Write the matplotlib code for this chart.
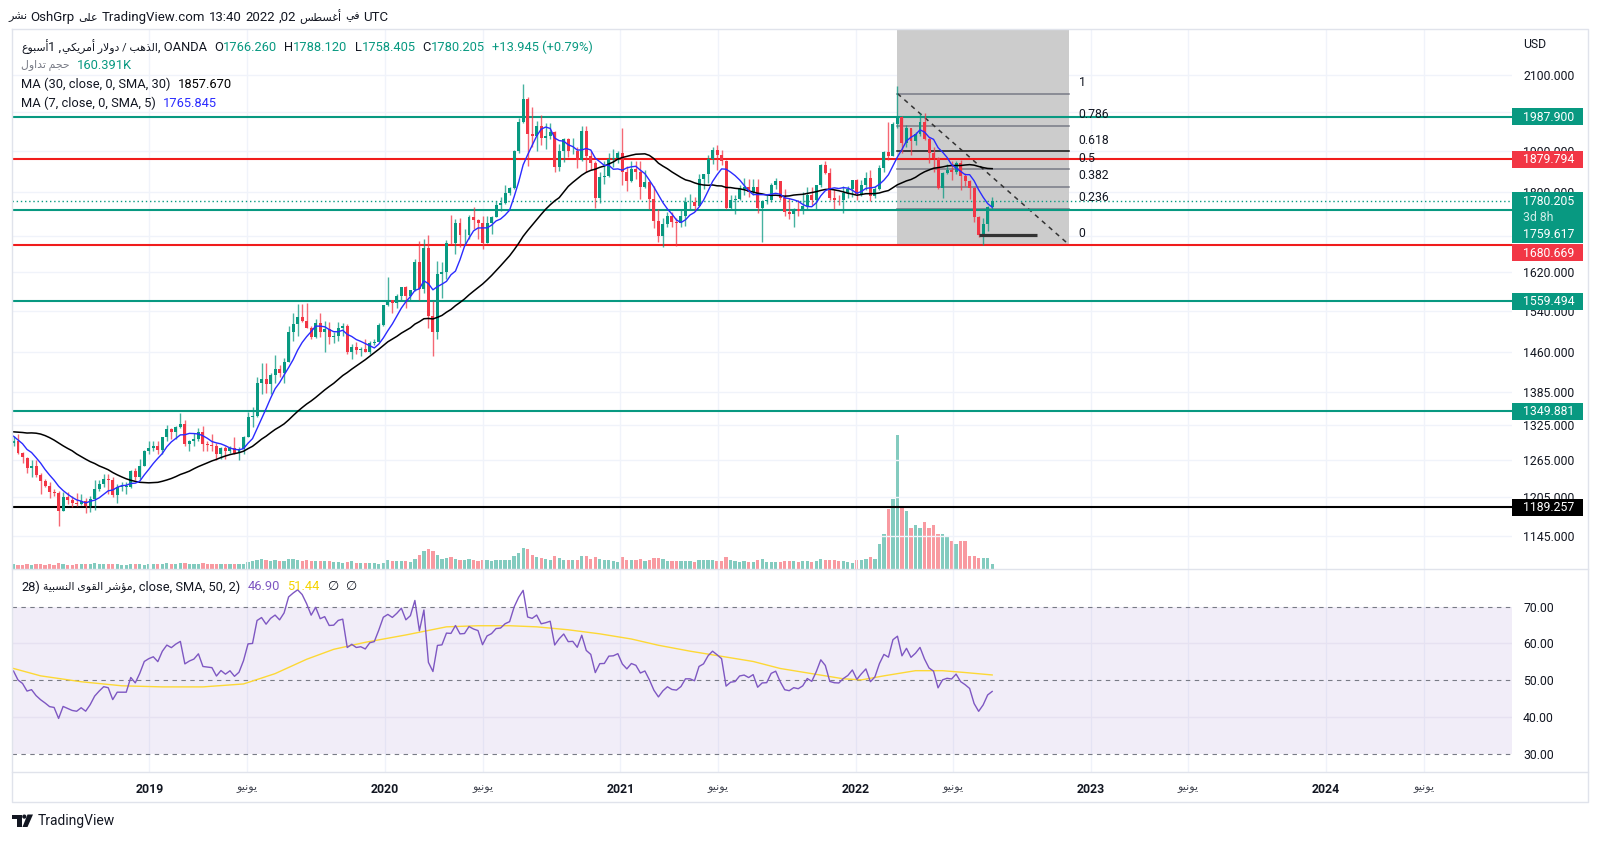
import numpy as np
import pandas as pd
import matplotlib
matplotlib.use('Agg')
import matplotlib.pyplot as plt
from matplotlib.patches import Rectangle, Polygon, Circle

plt.rcParams['font.family'] = ['Roboto', 'DejaVu Sans']

# ---------------- data (weekly XAUUSD, OANDA) ----------------
first_week = '2018-06-04'
warmup_close = [1275, 1294, 1288, 1280, 1248, 1256, 1275, 1303, 1320, 1338, 1332, 1350, 1333, 1316, 1356,
                1330, 1323, 1324, 1313, 1347, 1325, 1332, 1345, 1336, 1323, 1315, 1320, 1291, 1301, 1294]

open_2018 = [1294, 1298, 1278, 1269, 1252, 1255, 1241, 1231, 1223, 1214, 1212, 1184, 1206, 1201, 1196, 1194,
             1200, 1192, 1203, 1218, 1227, 1235, 1233, 1209, 1222, 1222, 1222, 1248, 1238, 1256, 1280]
high_2018 = [1307, 1309, 1279, 1271, 1265, 1265, 1245, 1235, 1230, 1219, 1215, 1214, 1214, 1207, 1212, 1211,
             1204, 1207, 1233, 1233, 1243, 1243, 1237, 1226, 1230, 1229, 1250, 1252, 1268, 1283, 1298]
low_2018 = [1289, 1276, 1261, 1245, 1237, 1238, 1211, 1221, 1204, 1207, 1160, 1183, 1195, 1190, 1192, 1193,
            1180, 1182, 1185, 1215, 1221, 1211, 1206, 1196, 1215, 1211, 1220, 1233, 1235, 1255, 1276]
close_2018 = [1298, 1278, 1270, 1252, 1255, 1241, 1231, 1223, 1214, 1212, 1184, 1206, 1201, 1196, 1194, 1200,
              1192, 1203, 1218, 1227, 1235, 1233, 1209, 1222, 1222, 1222, 1248, 1238, 1256, 1280, 1286]

open_2019 = [1286, 1290, 1282, 1304, 1318, 1314, 1322, 1328, 1292, 1298, 1302, 1313, 1292, 1291, 1290, 1276,
             1286, 1280, 1286, 1277, 1284, 1305, 1340, 1341, 1400, 1409, 1399, 1416, 1426, 1419, 1440, 1497,
             1513, 1527, 1520, 1506, 1488, 1516, 1497, 1504, 1489, 1490, 1505, 1509, 1459, 1468, 1462, 1464,
             1460, 1476, 1479, 1511]
high_2019 = [1298, 1298, 1305, 1326, 1320, 1324, 1346, 1334, 1300, 1311, 1320, 1324, 1298, 1310, 1294, 1288,
             1290, 1290, 1304, 1288, 1306, 1348, 1358, 1411, 1439, 1438, 1420, 1453, 1434, 1448, 1510, 1535,
             1555, 1555, 1557, 1510, 1523, 1536, 1519, 1517, 1498, 1518, 1516, 1513, 1474, 1478, 1468, 1485,
             1480, 1485, 1515, 1553]
low_2019 = [1280, 1276, 1276, 1298, 1302, 1302, 1320, 1290, 1280, 1290, 1298, 1281, 1281, 1281, 1266, 1268,
            1267, 1277, 1275, 1266, 1275, 1305, 1322, 1340, 1381, 1382, 1381, 1400, 1412, 1400, 1440, 1480,
            1491, 1517, 1506, 1484, 1486, 1488, 1459, 1474, 1476, 1480, 1491, 1456, 1446, 1455, 1452, 1459,
            1456, 1472, 1478, 1510]
close_2019 = [1290, 1282, 1304, 1318, 1314, 1322, 1328, 1292, 1298, 1302, 1313, 1292, 1291, 1290, 1276, 1286,
              1280, 1286, 1277, 1284, 1305, 1340, 1341, 1400, 1409, 1399, 1416, 1426, 1419, 1440, 1497, 1513,
              1527, 1520, 1506, 1488, 1516, 1497, 1504, 1489, 1490, 1505, 1509, 1459, 1468, 1462, 1464, 1460,
              1476, 1479, 1511, 1552]

open_2020 = [1552, 1562, 1557, 1571, 1589, 1570, 1584, 1643, 1585, 1674, 1530, 1498, 1617, 1620, 1684, 1683,
             1729, 1701, 1703, 1743, 1735, 1730, 1684, 1730, 1743, 1771, 1774, 1798, 1810, 1902, 1975, 2035,
             1945, 1940, 1964, 1933, 1940, 1950, 1862, 1900, 1930, 1900, 1902, 1879, 1951, 1889, 1872, 1788,
             1838, 1839, 1881, 1883]
high_2020 = [1611, 1563, 1574, 1589, 1591, 1584, 1649, 1689, 1692, 1703, 1560, 1645, 1643, 1690, 1747, 1739,
             1740, 1716, 1747, 1765, 1738, 1745, 1745, 1745, 1779, 1789, 1818, 1814, 1903, 1984, 2075, 2040,
             2015, 1977, 1992, 1973, 1973, 1952, 1918, 1933, 1933, 1933, 1910, 1965, 1965, 1900, 1875, 1848,
             1875, 1896, 1906, 1900]
low_2020 = [1550, 1536, 1547, 1563, 1547, 1562, 1581, 1563, 1576, 1505, 1451, 1484, 1567, 1606, 1682, 1660,
            1675, 1680, 1693, 1716, 1694, 1670, 1683, 1705, 1742, 1757, 1772, 1793, 1808, 1897, 1972, 1863,
            1910, 1901, 1916, 1906, 1932, 1848, 1851, 1873, 1887, 1894, 1860, 1877, 1850, 1855, 1764, 1775,
            1820, 1836, 1861, 1870]
close_2020 = [1562, 1557, 1571, 1589, 1570, 1584, 1643, 1585, 1674, 1530, 1498, 1617, 1620, 1684, 1683, 1729,
              1701, 1703, 1743, 1735, 1730, 1684, 1730, 1743, 1771, 1774, 1798, 1810, 1902, 1975, 2035, 1945,
              1940, 1964, 1933, 1940, 1950, 1862, 1900, 1930, 1900, 1902, 1879, 1951, 1889, 1872, 1788, 1838,
              1839, 1881, 1883, 1895]

open_2021 = [1895, 1850, 1828, 1856, 1848, 1814, 1824, 1784, 1734, 1700, 1727, 1745, 1732, 1729, 1744, 1777,
             1777, 1769, 1831, 1843, 1881, 1904, 1891, 1877, 1764, 1781, 1784, 1808, 1812, 1802, 1814, 1763,
             1780, 1781, 1818, 1827, 1787, 1754, 1750, 1761, 1757, 1767, 1793, 1783, 1818, 1865, 1846, 1788,
             1783, 1782, 1798, 1809]
high_2021 = [1959, 1864, 1875, 1875, 1875, 1855, 1827, 1816, 1760, 1740, 1755, 1755, 1740, 1758, 1790, 1797,
             1790, 1845, 1845, 1890, 1912, 1916, 1903, 1878, 1795, 1795, 1818, 1834, 1833, 1832, 1832, 1782,
             1795, 1823, 1834, 1827, 1809, 1787, 1764, 1781, 1800, 1814, 1813, 1818, 1869, 1877, 1860, 1808,
             1793, 1815, 1815, 1830]
low_2021 = [1817, 1803, 1824, 1831, 1785, 1811, 1760, 1717, 1687, 1676, 1719, 1720, 1677, 1721, 1723, 1760,
            1756, 1768, 1809, 1823, 1869, 1855, 1866, 1761, 1761, 1750, 1782, 1795, 1789, 1795, 1753, 1687,
            1772, 1778, 1808, 1782, 1745, 1738, 1721, 1746, 1750, 1760, 1770, 1758, 1812, 1844, 1782, 1762,
            1770, 1753, 1787, 1790]
close_2021 = [1850, 1828, 1856, 1848, 1814, 1824, 1784, 1734, 1700, 1727, 1745, 1732, 1729, 1744, 1777, 1777,
              1769, 1831, 1843, 1881, 1904, 1891, 1877, 1764, 1781, 1784, 1808, 1812, 1802, 1814, 1763, 1780,
              1781, 1818, 1827, 1787, 1754, 1750, 1761, 1757, 1767, 1793, 1783, 1818, 1865, 1846, 1788, 1783,
              1782, 1798, 1809, 1829]

open_2022 = [1829, 1797, 1817, 1835, 1791, 1808, 1859, 1898, 1889, 1970, 1988, 1921, 1958, 1925, 1945, 1974,
             1931, 1896, 1883, 1811, 1846, 1853, 1850, 1871, 1840, 1827, 1811, 1742, 1703, 1727, 1766.260]
high_2022 = [1831, 1830, 1848, 1853, 1815, 1865, 1902, 1974, 1974, 2070, 1990, 1966, 1960, 1948, 1998, 1998,
             1936, 1910, 1885, 1849, 1869, 1875, 1875, 1879, 1847, 1830, 1814, 1745, 1740, 1767, 1788.120]
low_2022 = [1782, 1792, 1805, 1780, 1788, 1805, 1850, 1878, 1889, 1960, 1895, 1910, 1890, 1915, 1940, 1928,
            1872, 1850, 1807, 1787, 1845, 1829, 1843, 1805, 1816, 1785, 1732, 1697, 1680, 1711, 1758.405]
close_2022 = [1797, 1817, 1835, 1791, 1808, 1859, 1898, 1889, 1970, 1988, 1921, 1958, 1925, 1945, 1974, 1931,
              1896, 1883, 1811, 1846, 1853, 1850, 1871, 1840, 1827, 1811, 1742, 1703, 1727, 1766, 1780.205]

volume_k_2018 = [150, 140, 140, 150, 130, 150, 160, 130, 150, 140, 200, 170, 140, 140, 150, 150,
                 150, 160, 180, 160, 160, 150, 170, 160, 140, 130, 170, 160, 150, 120, 150]
volume_k_2019 = [170, 160, 160, 180, 150, 160, 180, 190, 160, 170, 170, 180, 160, 160, 150, 160,
                 150, 160, 170, 160, 160, 230, 240, 300, 320, 280, 260, 280, 240, 250, 330, 310,
                 300, 260, 280, 260, 250, 260, 260, 240, 220, 210, 200, 220, 240, 200, 200, 180,
                 190, 180, 170, 200]
volume_k_2020 = [280, 250, 240, 260, 240, 230, 330, 450, 560, 620, 580, 450, 330, 350, 380, 330,
                 300, 290, 320, 300, 250, 290, 280, 260, 270, 280, 300, 290, 420, 520, 650, 620,
                 450, 380, 350, 330, 300, 420, 340, 300, 280, 270, 280, 400, 420, 330, 380, 320,
                 300, 290, 260, 220]
volume_k_2021 = [380, 300, 280, 280, 320, 260, 300, 340, 360, 320, 260, 250, 260, 240, 260, 240,
                 230, 300, 280, 300, 280, 250, 260, 380, 300, 240, 230, 240, 220, 220, 300, 330,
                 230, 220, 220, 230, 260, 250, 250, 230, 240, 250, 230, 260, 320, 300, 300, 290,
                 250, 260, 220, 180]
volume_k_2022 = [300, 280, 320, 380, 320, 800, 1100, 1900, 2200, 4250, 1950, 1850, 1300, 1400, 1300, 1500,
                 1300, 1400, 1100, 1100, 1000, 900, 800, 900, 900, 400, 400, 350, 350, 350, 160.391]

# RSI-based MA (SMA 50): week number since first bar, value
rsi_ma_week = [0, 6, 15, 24, 33, 42, 51, 58, 65, 71, 78, 87, 96, 103, 110, 116, 123, 130, 137, 143,
               150, 157, 164, 170, 177, 184, 188, 193, 200, 206, 211, 217]
rsi_ma_vals = [53.2, 51.2, 49.6, 48.5, 48.2, 48.2, 49.0, 51.8, 55.7, 58.4, 60.3, 62.3, 64.5, 64.8, 64.8,
               64.5, 63.7, 62.6, 61.2, 59.5, 57.9, 56.5, 55.1, 53.2, 51.8, 50.4, 50.1, 51.2, 52.6, 52.6,
               52.1, 51.44]

# user drawn horizontal levels
level_prices = [1987.900, 1879.794, 1759.617, 1680.669, 1559.494, 1349.881, 1189.257]
level_kinds = ['g', 'r', 'g', 'r', 'g', 'g', 'k']
last_price = 1780.205

# fibonacci retracement
fib_start, fib_end = '2022-03-07', '2022-11-28'
fib_high, fib_low = 2050.0, 1680.669
fib_levels = [1, 0.786, 0.618, 0.5, 0.382, 0.236, 0]
fib_labels = ['1', '0.786', '0.618', '0.5', '0.382', '0.236', '0']
seg_start, seg_end, seg_price = '2022-07-11', '2022-10-10', 1703.0

price_ticks = [2100, 2000, 1900, 1800, 1700, 1620, 1540, 1460, 1385, 1325, 1265, 1205, 1145]
rsi_ticks = [30, 40, 50, 60, 70]
time_tick_dates = ['2019-01-01', '2019-06-01', '2020-01-01', '2020-06-01', '2021-01-01', '2021-06-01',
                   '2022-01-01', '2022-06-01', '2023-01-01', '2023-06-01', '2024-01-01', '2024-06-01']

# ---------------- Arabic shaping (visual order) ----------------
AR = {
    '\u0627': ('\uFE8D', '\uFE8E', None, None), '\u0623': ('\uFE83', '\uFE84', None, None),
    '\u0624': ('\uFE85', '\uFE86', None, None), '\u0628': ('\uFE8F', '\uFE90', '\uFE91', '\uFE92'),
    '\u0629': ('\uFE93', '\uFE94', None, None), '\u062A': ('\uFE95', '\uFE96', '\uFE97', '\uFE98'),
    '\u062C': ('\uFE9D', '\uFE9E', '\uFE9F', '\uFEA0'), '\u062D': ('\uFEA1', '\uFEA2', '\uFEA3', '\uFEA4'),
    '\u062F': ('\uFEA9', '\uFEAA', None, None), '\u0630': ('\uFEAB', '\uFEAC', None, None),
    '\u0631': ('\uFEAD', '\uFEAE', None, None), '\u0633': ('\uFEB1', '\uFEB2', '\uFEB3', '\uFEB4'),
    '\u0634': ('\uFEB5', '\uFEB6', '\uFEB7', '\uFEB8'), '\u0637': ('\uFEC1', '\uFEC2', '\uFEC3', '\uFEC4'),
    '\u0639': ('\uFEC9', '\uFECA', '\uFECB', '\uFECC'), '\u063A': ('\uFECD', '\uFECE', '\uFECF', '\uFED0'),
    '\u0641': ('\uFED1', '\uFED2', '\uFED3', '\uFED4'), '\u0642': ('\uFED5', '\uFED6', '\uFED7', '\uFED8'),
    '\u0643': ('\uFED9', '\uFEDA', '\uFEDB', '\uFEDC'), '\u0644': ('\uFEDD', '\uFEDE', '\uFEDF', '\uFEE0'),
    '\u0645': ('\uFEE1', '\uFEE2', '\uFEE3', '\uFEE4'), '\u0646': ('\uFEE5', '\uFEE6', '\uFEE7', '\uFEE8'),
    '\u0647': ('\uFEE9', '\uFEEA', '\uFEEB', '\uFEEC'), '\u0648': ('\uFEED', '\uFEEE', None, None),
    '\u0649': ('\uFEEF', '\uFEF0', None, None), '\u064A': ('\uFEF1', '\uFEF2', '\uFEF3', '\uFEF4'),
}
LAMALEF = {'\u0627': ('\uFEFB', '\uFEFC'), '\u0623': ('\uFEF7', '\uFEF8')}


def aw(word):
    toks, i = [], 0
    while i < len(word):
        if word[i] == '\u0644' and i + 1 < len(word) and word[i + 1] in LAMALEF:
            toks.append(('LA', word[i + 1])); i += 2
        else:
            toks.append(('C', word[i])); i += 1

    def jn(t):
        return t[0] == 'C' and t[1] in AR and AR[t[1]][2] is not None

    def jb(t):
        return t[0] == 'LA' or t[1] in AR
    out = []
    for k, t in enumerate(toks):
        p = toks[k - 1] if k > 0 else None
        n = toks[k + 1] if k + 1 < len(toks) else None
        jp = p is not None and jn(p) and jb(t)
        jx = n is not None and jn(t) and jb(n)
        if t[0] == 'LA':
            out.append(LAMALEF[t[1]][1 if jp else 0]); continue
        f = AR.get(t[1])
        if f is None:
            out.append(t[1]); continue
        out.append(f[3] if (jp and jx) else f[1] if jp else f[2] if jx else f[0])
    return ''.join(reversed(out))


def ap(phrase):
    return ' '.join(aw(w) for w in reversed(phrase.split(' ')))


# ---------------- assemble ----------------
open_ = np.array(open_2018 + open_2019 + open_2020 + open_2021 + open_2022, float)
high = np.array(high_2018 + high_2019 + high_2020 + high_2021 + high_2022, float)
low = np.array(low_2018 + low_2019 + low_2020 + low_2021 + low_2022, float)
close = np.array(close_2018 + close_2019 + close_2020 + close_2021 + close_2022, float)
volume = np.array(volume_k_2018 + volume_k_2019 + volume_k_2020 + volume_k_2021 + volume_k_2022, float)
n = len(close)
x = np.arange(n)
t0 = pd.Timestamp(first_week)


def widx(d):
    return (pd.Timestamp(d) - t0).days / 7.0


allc = pd.Series(warmup_close + list(close))
ma30 = allc.rolling(30).mean().values[-n:]
ma7 = allc.rolling(7).mean().values[-n:]


def rsi_calc(c, length):
    c = np.asarray(c, float)
    d = np.diff(c)
    up = np.maximum(d, 0); dn = np.maximum(-d, 0)
    au = np.full(len(d), np.nan); ad = np.full(len(d), np.nan)
    au[length - 1] = up[:length].mean(); ad[length - 1] = dn[:length].mean()
    for i in range(length, len(d)):
        au[i] = (au[i - 1] * (length - 1) + up[i]) / length
        ad[i] = (ad[i - 1] * (length - 1) + dn[i]) / length
    r = 100 - 100 / (1 + au / ad)
    return np.concatenate([[np.nan], r])


rsi = rsi_calc(allc.values, 28)[-n:]

# ---------------- figure ----------------
GREEN, RED = '#089981', '#f23645'
LRED = '#f01c1c'
TXT = '#131722'
GRID = '#f0f3fa'
W, H = 1600, 841
fig = plt.figure(figsize=(16, 8.41), dpi=100)
L, R = 11.7, 1512.0
T_MAIN, B_MAIN, B_RSI = 29.3, 569.0, 772.0
PXB, X0 = 4.51, 13.5


def frac(x0, y0, x1, y1):
    return [x0 / W, 1 - y1 / H, (x1 - x0) / W, (y1 - y0) / H]


ax = fig.add_axes(frac(L, T_MAIN, R, B_MAIN))
vx = ax.twinx()
axr = fig.add_axes(frac(L, B_MAIN, R, B_RSI), sharex=ax)
ax.set_zorder(2); vx.set_zorder(1); ax.patch.set_visible(False)
xl = (-(X0 - L) / PXB, (R - X0) / PXB)
ax.set_xlim(*xl)
ax.set_yscale('log')
ax.set_ylim(1096.6, 2231)
vx.set_ylim(0, volume.max() / 0.249)
vx.axis('off')
for a in (ax, axr):
    for s in a.spines.values():
        s.set_visible(False)

tpos = [widx(d) for d in time_tick_dates]
for a in (ax, axr):
    for p in tpos:
        a.axvline(p, color=GRID, lw=1, zorder=0)
for p in price_ticks:
    ax.axhline(p, color=GRID, lw=1, zorder=0)

# volume
vcol = np.where(close >= open_, GREEN, RED)
vx.bar(x, volume, width=0.72, color=vcol, alpha=0.5, linewidth=0)

# fib box
i0, i1 = widx(fib_start), widx(fib_end)
ax.add_patch(Rectangle((i0, fib_low), i1 - i0, 5000 - fib_low, facecolor='#cccccc', edgecolor='none', zorder=1))
lh, ll = np.log(fib_high), np.log(fib_low)
fib_prices = [np.exp(ll + lv * (lh - ll)) for lv in fib_levels]
for lv, fp in zip(fib_levels, fib_prices):
    ax.plot([i0, i1], [fp, fp], color='#111111' if lv == 0.618 else '#787b86', lw=1.1, zorder=2)
ax.plot([i0, i1], [fib_high, fib_low], color='#333333', lw=1.1, ls=(0, (3, 3)), zorder=2)
ax.plot([widx(seg_start), widx(seg_end)], [seg_price, seg_price], color='#333333', lw=2.3, zorder=6,
        solid_capstyle='butt')

# horizontal levels
kcol = {'g': GREEN, 'r': LRED, 'k': '#000000'}
for p, k in zip(level_prices, level_kinds):
    ax.axhline(p, color=kcol[k], lw=1.5, zorder=3)
ax.axhline(last_price, color=GREEN, lw=1, ls=(0, (1, 2)), zorder=3)

# candles
ccol = np.where(close >= open_, GREEN, RED)
ax.vlines(x, low, high, colors=ccol, lw=1, alpha=0.75, zorder=4)
body = np.maximum(np.abs(close - open_), 0.8)
ax.bar(x, body, bottom=np.minimum(open_, close), width=0.66, color=ccol, linewidth=0, zorder=5)

# moving averages
ax.plot(x, ma30, color='#000000', lw=1.1, zorder=6)
ax.plot(x, ma7, color='#2b2bff', lw=1.0, zorder=6)

# axes ticks
ax.yaxis.tick_right()
ax.set_yticks(price_ticks)
ax.set_yticklabels(['%.3f' % p for p in price_ticks])
ax.yaxis.set_minor_locator(matplotlib.ticker.NullLocator())
ax.tick_params(axis='y', length=0, pad=8, labelsize=8.8, labelcolor=TXT)
ax.tick_params(axis='x', length=0, labelbottom=False)
ax.set_xticks(tpos)

# RSI pane
axr.set_ylim(25.1, 80.2)
axr.axhspan(30, 70, color='#7e57c2', alpha=0.1, lw=0, zorder=0)
for v in (40, 60):
    axr.axhline(v, color='#e6e1f1', lw=1, zorder=1)
for v in (30, 50, 70):
    axr.axhline(v, color='#787b86', lw=0.8, dashes=(4, 4), zorder=1)
axr.plot(x, rsi, color='#7e57c2', lw=1.0, zorder=3)
axr.plot(rsi_ma_week, rsi_ma_vals, color='#fdd835', lw=1.0, zorder=2)
axr.yaxis.tick_right()
axr.set_yticks(rsi_ticks)
axr.set_yticklabels(['%.2f' % v for v in rsi_ticks])
axr.tick_params(axis='y', length=0, pad=8, labelsize=8.8, labelcolor=TXT)
axr.set_xticks(tpos)
tlabels = []
for d in time_tick_dates:
    tlabels.append(d[:4] if d.endswith('01-01') else aw('يونيو'))
axr.set_xticklabels(tlabels)
axr.tick_params(axis='x', length=0, pad=8, labelsize=8.8, labelcolor=TXT)
for lab, d in zip(axr.get_xticklabels(), time_tick_dates):
    if d.endswith('01-01'):
        lab.set_fontweight('bold')
    else:
        lab.set_color('#434651')
        lab.set_fontsize(8.0)
axr.set_xlim(*xl)

# ---------------- overlay in pixel coordinates ----------------
ov = fig.add_axes([0, 0, 1, 1])
ov.set_xlim(0, W); ov.set_ylim(H, 0); ov.axis('off'); ov.set_zorder(10)
renderer = fig.canvas.get_renderer()


def to_px(a, xv, yv):
    dx, dy = a.transData.transform((xv, yv))
    return dx, H - dy


def is_ar(s):
    return any('\uFE70' <= ch <= '\uFEFF' for ch in s)


def chain(x0, y0, parts, size=9.3):
    xx = x0
    for s, c in parts:
        ns = len(s) - len(s.lstrip(' '))
        xx += ns * 3.6
        s = s.strip(' ')
        if not s:
            continue
        fs = size * 0.84 if is_ar(s) else size
        t = ov.text(xx, y0, s, color=c, fontsize=fs, va='center', ha='left')
        xx += t.get_window_extent(renderer).width
    return xx


# borders
bc = '#e0e3eb'
ov.plot([L, 1588, 1588, L, L], [T_MAIN, T_MAIN, 802, 802, T_MAIN], color=bc, lw=1)
ov.plot([L, 1588], [B_MAIN, B_MAIN], color=bc, lw=1)
ov.plot([L, 1588], [B_RSI, B_RSI], color=bc, lw=1)

# title
chain(8, 17, [(aw('نشر'), TXT), (' OshGrp', TXT), (' ' + aw('على'), TXT), (' TradingView.com', TXT),
              (' 13:40', TXT), (' 2022', TXT), (' ,02', TXT), (' ' + aw('أغسطس'), TXT), (' ' + aw('في'), TXT),
              (' UTC', TXT)], size=9.5)
# legend
chain(21, 47, [(aw('أسبوع'), TXT), ('1 ,', TXT), (ap('الذهب / دولار أمريكي'), TXT), (', OANDA', TXT),
               ('  O', TXT), ('1766.260', GREEN), ('  H', TXT), ('1788.120', GREEN), ('  L', TXT),
               ('1758.405', GREEN), ('  C', TXT), ('1780.205', GREEN), ('  +13.945 (+0.79%)', GREEN)])
chain(21, 65, [(ap('حجم تداول'), '#787b86'), ('  160.391K', GREEN)])
chain(21, 84, [('MA (30, close, 0, SMA, 30)', TXT), ('  1857.670', '#000000')])
chain(21, 103, [('MA (7, close, 0, SMA, 5)', TXT), ('  1765.845', '#2b2bff')])
chain(21, 587, [('28)', TXT), (' ' + ap('مؤشر القوى النسبية'), TXT), (', close, SMA, 50, 2)', TXT),
                ('  46.90', '#7e57c2'), ('  51.44', '#f5d300'), ('  \u2205', TXT), ('  \u2205', TXT)])
ov.text(1523, 44, 'USD', fontsize=8.8, color=TXT, va='center', ha='left')

# fib labels
fxr = to_px(ax, i1, fib_low)[0]
for lab, fp in zip(fib_labels, fib_prices):
    yy = to_px(ax, i1, fp)[1]
    ov.text(fxr + 10, yy - 11, lab, fontsize=8.8, color=TXT, va='center', ha='left')

# right axis label boxes
boxes = []
for p, k in zip(level_prices, level_kinds):
    if k == 'g' and abs(p - 1759.617) < 1e-6:
        continue
    boxes.append((to_px(ax, 0, p)[1], [('%.3f' % p, 'white')], {'g': GREEN, 'r': RED, 'k': '#000000'}[k]))
boxes.append((to_px(ax, 0, last_price)[1],
              [('%.3f' % last_price, 'white'), ('3d 8h', '#cfeee9'), ('%.3f' % 1759.617, 'white')], GREEN))
boxes.sort(key=lambda b: b[0])
last_bottom = -1e9
for yc, lines, col in boxes:
    top = max(yc - 8.5, last_bottom + 1)
    hgt = 17 * len(lines)
    ov.add_patch(Rectangle((R, top), 71, hgt, facecolor=col, edgecolor='none', zorder=5))
    for j, (s, c) in enumerate(lines):
        ov.text(1523, top + 8.7 + 16.8 * j, s, fontsize=8.8, color=c, va='center', ha='left', zorder=6)
    last_bottom = top + hgt

# TradingView logo
ov.add_patch(Polygon([[12, 814.5], [21.5, 814.5], [21.5, 827], [17, 827], [17, 818.5], [12, 818.5]],
                     closed=True, facecolor=TXT, edgecolor='none'))
ov.add_patch(Circle((24.3, 816.6), 2.1, facecolor=TXT, edgecolor='none'))
ov.add_patch(Polygon([[27.5, 814.5], [33, 814.5], [27.5, 827], [22.5, 827]], closed=True, facecolor=TXT,
                     edgecolor='none'))
ov.text(38, 821, 'TradingView', fontsize=10, color=TXT, va='center', ha='left')

fig.savefig('out.png', dpi=100, facecolor='white')
